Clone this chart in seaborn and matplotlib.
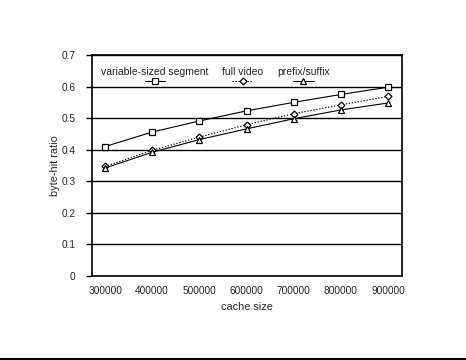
import pandas as pd
import matplotlib.pyplot as plt
import seaborn as sns
from matplotlib.lines import Line2D
from matplotlib.offsetbox import VPacker

cache_size = [300000, 400000, 500000, 600000, 700000, 800000, 900000]
variable_sized = [0.410, 0.456, 0.491, 0.523, 0.550, 0.575, 0.598]
full_video = [0.347, 0.398, 0.440, 0.479, 0.514, 0.542, 0.569]
prefix_suffix = [0.342, 0.392, 0.432, 0.466, 0.498, 0.526, 0.548]
series_names = ["variable-sized segment", "full video", "prefix/suffix"]


def build_frame():
    df = pd.DataFrame({
        "cache size": cache_size * 3,
        "byte-hit ratio": variable_sized + full_video + prefix_suffix,
        "series": [n for n in series_names for _ in cache_size],
    })
    return df


def main():
    df = build_frame()
    sns.set_style("white")
    plt.rcParams["font.family"] = ["Liberation Sans", "DejaVu Sans"]

    fig = plt.figure(figsize=(4.66, 3.6), dpi=100)
    ax = fig.add_axes([92 / 466, 84 / 360, 310 / 466, 221 / 360])

    styles = {
        "variable-sized segment": dict(marker="s", linestyle="-"),
        "full video": dict(marker="D", linestyle=(0, (1.2, 1.5)), markersize=3.5),
        "prefix/suffix": dict(marker="^", linestyle="-"),
    }
    for name in series_names:
        sub = df[df["series"] == name]
        kw = dict(markersize=4)
        kw.update(styles[name])
        sns.lineplot(
            data=sub, x="cache size", y="byte-hit ratio", ax=ax, label=name,
            color="black", linewidth=0.8, markerfacecolor="white",
            markeredgecolor="black", markeredgewidth=0.9, **kw,
        )

    ax.set_xticks(cache_size)
    ax.set_xticklabels([str(c) for c in cache_size])
    ax.set_ylim(0, 0.7)
    ax.set_xlim(272400, 929700)
    ax.set_yticks([0, 0.1, 0.2, 0.3, 0.4, 0.5, 0.6, 0.7])
    ax.set_yticklabels(["0", "0.1", "0.2", "0.3", "0.4", "0.5", "0.6", "0.7"])
    ax.tick_params(axis="y", left=True, length=4, width=1, color="black",
                   labelsize=7.3, pad=8)
    ax.tick_params(axis="x", bottom=False, labelsize=7.3, pad=4)
    ax.grid(axis="y", color="black", linewidth=1)
    for s in ax.spines.values():
        s.set_color("black")
        s.set_linewidth(1.2)
    ax.set_xlabel("cache size", fontsize=7.8, labelpad=4)
    ax.set_ylabel("byte-hit ratio", fontsize=7.8, labelpad=1)

    leg = ax.legend(ncol=3, loc="upper left", bbox_to_anchor=(0.0, 0.99),
                    frameon=False, fontsize=7.5, handlelength=2.0,
                    handletextpad=0.1, columnspacing=1.3)
    # put the label above its marker, like the original
    for col in leg._legend_handle_box.get_children():
        for row in col.get_children():
            h, t = row.get_children()
            row.__class__ = VPacker
            row._children = [t, h]
            row.align = "center"

    fig.add_artist(Line2D([0, 1], [1.5 / 360, 1.5 / 360], color="black",
                          linewidth=1.5, transform=fig.transFigure))
    fig.savefig("out.png", dpi=100)


if __name__ == "__main__":
    main()
